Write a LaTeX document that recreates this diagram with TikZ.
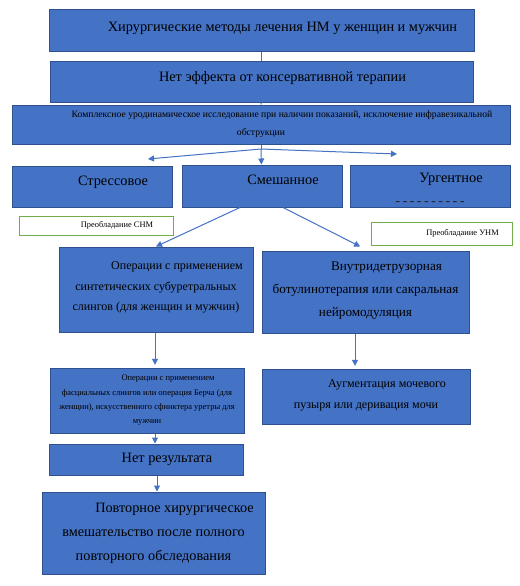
\documentclass[tikz,border=0pt]{standalone}
\usepackage{fontspec}
\setmainfont{Liberation Serif}
\usepackage{tikz}
\usetikzlibrary{arrows.meta}
\definecolor{ofc}{HTML}{4472C4}
\definecolor{bdr}{HTML}{2F528F}
\definecolor{grn}{HTML}{70AD47}
\newcommand{\ind}{\hspace*{31.5pt}}
\newcommand{\lift}[1]{\rule[-#1]{0pt}{0pt}}

\begin{document}
\begin{tikzpicture}[x=0.75pt,y=-0.75pt,
  bx/.style 2 args={draw=bdr,fill=ofc,line width=0.75pt,inner sep=0pt,align=center,
             minimum width=#1*0.75pt,minimum height=#2*0.75pt,
             font=\fontsize{10.75}{16}\selectfont},
  nt/.style 2 args={draw=grn,fill=white,line width=0.75pt,inner sep=0pt,align=center,
             minimum width=#1*0.75pt,minimum height=#2*0.75pt,
             font=\fontsize{6.3}{7}\selectfont},
  ln/.style={draw=ofc,line width=0.75pt},
  ar/.style={ln,-{Triangle[length=4.5pt,width=4.5pt]}}]
  \path[use as bounding box,fill=white] (0,0) rectangle (520,586);
  % top of the scheme
  \node[bx={425}{42}] (bTop) at (261.5,30) {\ind Хирургические методы лечения НМ у женщин и мужчин\lift{4.5pt}};
  \node[bx={423}{41}] (bNoEff) at (261.5,81.5) {\ind Нет эффекта от консервативной терапии\lift{7.5pt}};
  \node[bx={498}{39},font=\fontsize{7.25}{13.5}\selectfont] (bUro) at (261,124.5)
    {\ind Комплексное уродинамическое исследование при наличии показаний, исключение инфравезикальной\\ обструкции};
  % types
  \node[bx={160}{41}] (bStress) at (92,186.5) {\ind Стрессовое\lift{9pt}};
  \node[bx={160}{42}] (bMix) at (262,186) {\ind Смешанное\lift{9pt}};
  \node[bx={160}{42},font=\fontsize{10.75}{17.25}\selectfont] (bUrg) at (430,186)
    {\ind Ургентное\rule{0pt}{12.5pt}\\ {\color{black!85}-\,-\,-\,-\,-\,-\,-\,-\,-\,-}};
  \node[nt={154}{19}] (nSNM) at (96,225.5) {\ind Преобладание СНМ};
  \node[nt={141}{23}] (nUNM) at (441.5,233.5) {\ind Преобладание УНМ};
  % treatment
  \node[bx={194}{85},font=\fontsize{9}{15.4}\selectfont] (bSling) at (156,289.5)
    {\ind Операции с применением\\ синтетических субуретральных\\ слингов (для женщин и мужчин)\lift{5pt}};
  \node[bx={207}{82},font=\fontsize{9.9}{17.25}\selectfont] (bBotox) at (365.5,292)
    {\ind Внутридетрузорная\\ ботулинотерапия или сакральная\\ нейромодуляция\lift{4pt}};
  \node[bx={194}{65},font=\fontsize{6.35}{10.7}\selectfont] (bFasc) at (147,400.5)
    {\ind Операции с применением\\ фасциальных слингов или операция Берча (для\\ женщин), искусственного сфинктера уретры для\\ мужчин};
  \node[bx={208}{55},font=\fontsize{9.05}{15.75}\selectfont] (bAug) at (366,396.5)
    {\ind Аугментация мочевого\\ пузыря или деривация мочи\lift{4pt}};
  \node[bx={194}{31}] (bNoRes) at (146,459.5) {\ind Нет результата};
  \node[bx={223}{82},font=\fontsize{10.7}{18}\selectfont] (bRedo) at (153.5,533)
    {\ind Повторное хирургическое\\ вмешательство после полного\\ повторного обследования\lift{2pt}};
  % connectors
  \coordinate (jn) at (261,149);
  \coordinate (eL) at (148,159);
  \coordinate (eR) at (397,154);
  \foreach \a/\b in {bTop/bNoEff,bNoEff/bUro,bUro/jn} \draw[ln] (\a) -- (\b);
  \foreach \e in {eL,eR,bMix} \draw[ar] (jn) -- (\e);
  \draw[ar] ([xshift=-16.5pt]bMix.south) -- (bSling.north);
  \draw[ar] ([xshift=15.75pt]bMix.south) -- ([xshift=-4pt,yshift=3pt]bBotox.north);
  \draw[ar,shorten >=2pt] (bSling.south -| 155,0) -- (bFasc.north -| 155,0);
  \draw[ar,shorten >=2pt] (bBotox.south -| 355,0) -- (bAug.north -| 355,0);
  \draw[ar] (bFasc.south -| 155,0) -- (bNoRes.north -| 155,0);
  \draw[ar] (bNoRes.south -| 157,0) -- (bRedo.north -| 157,0);
\end{tikzpicture}
\end{document}
